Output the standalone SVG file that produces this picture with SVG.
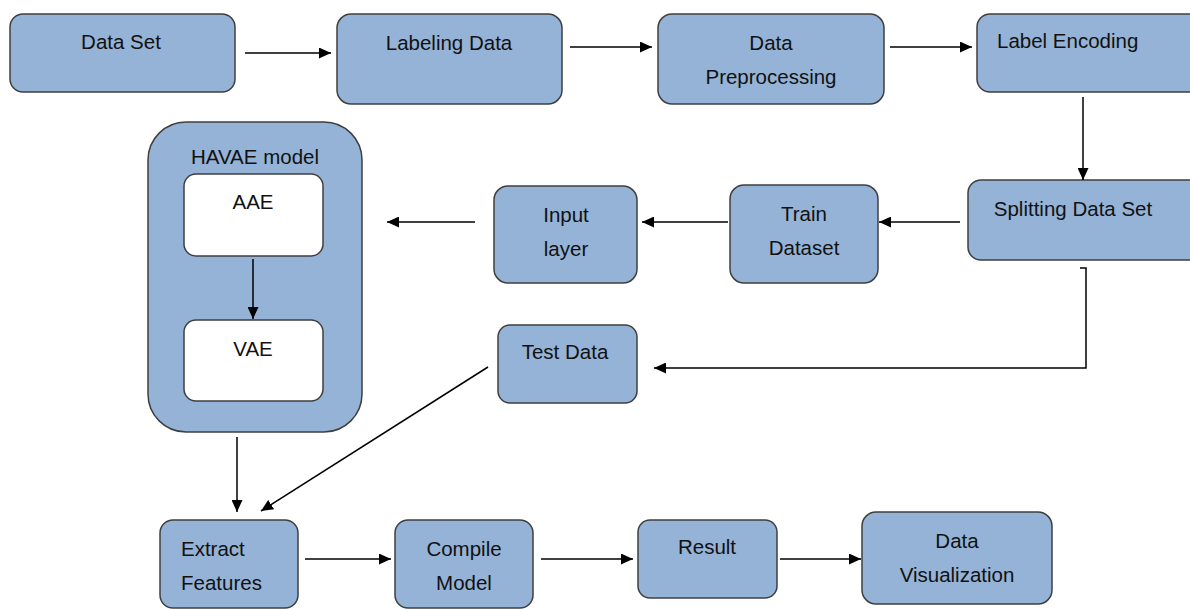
<svg xmlns="http://www.w3.org/2000/svg" width="1190" height="609" viewBox="0 0 1190 609">
<defs>
<marker id="ah" viewBox="0 0 12 11" refX="12" refY="5.5" markerWidth="12" markerHeight="11" markerUnits="userSpaceOnUse" orient="auto">
<path d="M0,0 L12,5.5 L0,11 z" fill="#000"/>
</marker>
<style>
.n{fill:#95b3d7;stroke:#3f3f3f;stroke-width:1.5}
.w{fill:#ffffff;stroke:#3f3f3f;stroke-width:1.5}
.t{font-family:"Liberation Sans",Arial,sans-serif;font-size:20.5px;fill:#111;text-anchor:middle}
.l{text-anchor:start}
.c{fill:none;stroke:#000;stroke-width:1.5}
</style>
</defs>
<rect width="1190" height="609" fill="#fff"/>
<g id="dataset"><rect class="n" x="10" y="14" width="225" height="78" rx="13"/><text class="t" x="121" y="49">Data Set</text></g>
<g id="labeling"><rect class="n" x="337" y="14" width="225" height="90" rx="14"/><text class="t" x="449" y="50">Labeling Data</text></g>
<g id="preprocessing"><rect class="n" x="658" y="14" width="226" height="90" rx="14"/><text class="t" x="771" y="50">Data</text><text class="t" x="771" y="84">Preprocessing</text></g>
<g id="encoding"><rect class="n" x="977" y="14" width="225" height="78" rx="13"/><text class="t l" x="997" y="48">Label Encoding</text></g>
<g id="splitting"><rect class="n" x="968" y="180" width="234" height="80" rx="13"/><text class="t" x="1073" y="216">Splitting Data Set</text></g>
<g id="train"><rect class="n" x="730" y="185" width="148" height="98" rx="14"/><text class="t" x="804" y="221">Train</text><text class="t" x="804" y="255">Dataset</text></g>
<g id="input"><rect class="n" x="494" y="186" width="143" height="97" rx="14"/><text class="t" x="566" y="222">Input</text><text class="t" x="566" y="256">layer</text></g>
<g id="havae"><rect class="n" x="148" y="122" width="214" height="310" rx="38"/><text class="t" x="255" y="164">HAVAE model</text>
<g id="aae"><rect class="w" x="184" y="174" width="139" height="82" rx="12"/><text class="t" x="253" y="209">AAE</text></g>
<g id="vae"><rect class="w" x="184" y="320" width="139" height="81" rx="12"/><text class="t" x="253" y="356">VAE</text></g>
</g>
<g id="test"><rect class="n" x="498" y="325" width="139" height="78" rx="12"/><text class="t" x="565" y="359">Test Data</text></g>
<g id="extract"><rect class="n" x="160" y="520" width="138" height="88" rx="13"/><text class="t l" x="181" y="556">Extract</text><text class="t l" x="181" y="590">Features</text></g>
<g id="compile"><rect class="n" x="395" y="520" width="138" height="88" rx="13"/><text class="t" x="464" y="556">Compile</text><text class="t" x="464" y="590">Model</text></g>
<g id="result"><rect class="n" x="638" y="520" width="139" height="78" rx="12"/><text class="t" x="707" y="554">Result</text></g>
<g id="visualization"><rect class="n" x="862" y="512" width="190" height="92" rx="14"/><text class="t" x="957" y="548">Data</text><text class="t" x="957" y="582">Visualization</text></g>
<g id="connectors">
<line class="c" x1="245" y1="53" x2="331" y2="53" marker-end="url(#ah)"/>
<line class="c" x1="570" y1="47" x2="652" y2="47" marker-end="url(#ah)"/>
<line class="c" x1="890" y1="47" x2="972" y2="47" marker-end="url(#ah)"/>
<line class="c" x1="1083" y1="97" x2="1083" y2="180" marker-end="url(#ah)"/>
<line class="c" x1="960" y1="222" x2="879" y2="222" marker-end="url(#ah)"/>
<line class="c" x1="728" y1="222" x2="642" y2="222" marker-end="url(#ah)"/>
<line class="c" x1="475" y1="222" x2="387" y2="222" marker-end="url(#ah)"/>
<line class="c" x1="253" y1="259" x2="253" y2="319" marker-end="url(#ah)"/>
<polyline class="c" points="1080,268 1086,268 1086,368 654,368" marker-end="url(#ah)"/>
<line class="c" x1="488" y1="367" x2="261" y2="511" marker-end="url(#ah)"/>
<line class="c" x1="237" y1="437" x2="237" y2="512" marker-end="url(#ah)"/>
<line class="c" x1="305" y1="559" x2="391" y2="559" marker-end="url(#ah)"/>
<line class="c" x1="541" y1="559" x2="633" y2="559" marker-end="url(#ah)"/>
<line class="c" x1="780" y1="559" x2="861" y2="559" marker-end="url(#ah)"/>
</g>
</svg>
